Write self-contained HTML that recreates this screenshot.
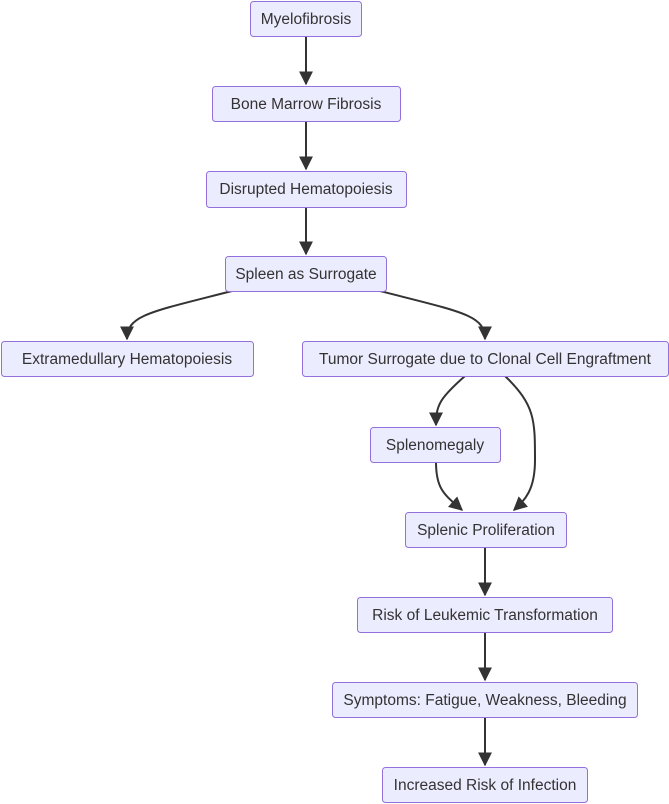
<!DOCTYPE html>
<html><head><meta charset="utf-8"><style>
html,body{margin:0;padding:0;background:#fff;}
svg{display:block;}
text{font-family:"Liberation Sans",sans-serif;font-size:15.5px;fill:#333;}
rect{fill:#ECECFF;stroke:#9370DB;stroke-width:1;}
path{fill:none;stroke:#333;stroke-width:2;}
</style></head><body>
<svg width="669" height="804" viewBox="0 0 669 804">
<defs><marker id="a" viewBox="0 0 10 10" refX="9" refY="5" markerWidth="7" markerHeight="7" orient="auto"><path d="M0,0 L10,5 L0,10 z" style="fill:#333;stroke:none"/></marker></defs>
<path d="M306,36 V84" marker-end="url(#a)"/>
<path d="M306,121 V169" marker-end="url(#a)"/>
<path d="M306,207 V254" marker-end="url(#a)"/>
<path d="M232,291 C150,312 127,315 127,339" marker-end="url(#a)"/>
<path d="M380,291 C462,312 485,315 485,339" marker-end="url(#a)"/>
<path d="M465,376 C440,398 436,405 436,425" marker-end="url(#a)"/>
<path d="M505,376 C535,405 535,420 535,460 C535,490 525,500 514,510" marker-end="url(#a)"/>
<path d="M436,462 C436,490 445,495 462,510" marker-end="url(#a)"/>
<path d="M485,548 V595" marker-end="url(#a)"/>
<path d="M485,632 V680" marker-end="url(#a)"/>
<path d="M485,717 V765" marker-end="url(#a)"/>
<rect x="250.5" y="1.5" width="111" height="35" rx="3"/><text x="306" y="24" text-anchor="middle">Myelofibrosis</text>
<rect x="212.5" y="86.5" width="188" height="35" rx="3"/><text x="306" y="109" text-anchor="middle">Bone Marrow Fibrosis</text>
<rect x="206.5" y="171.5" width="200" height="36" rx="3"/><text x="306" y="194" text-anchor="middle">Disrupted Hematopoiesis</text>
<rect x="225.5" y="256.5" width="161" height="35" rx="3"/><text x="306" y="279" text-anchor="middle">Spleen as Surrogate</text>
<rect x="1.5" y="341.5" width="252" height="35" rx="3"/><text x="127" y="364" text-anchor="middle">Extramedullary Hematopoiesis</text>
<rect x="302.5" y="341.5" width="366" height="35" rx="3"/><text x="485" y="364" text-anchor="middle">Tumor Surrogate due to Clonal Cell Engraftment</text>
<rect x="370.5" y="427.5" width="130" height="35" rx="3"/><text x="435" y="450" text-anchor="middle">Splenomegaly</text>
<rect x="405.5" y="512.5" width="161" height="35" rx="3"/><text x="486" y="535" text-anchor="middle">Splenic Proliferation</text>
<rect x="357.5" y="597.5" width="255" height="35" rx="3"/><text x="485" y="620" text-anchor="middle">Risk of Leukemic Transformation</text>
<rect x="332.5" y="682.5" width="305" height="35" rx="3"/><text x="485" y="705" text-anchor="middle">Symptoms: Fatigue, Weakness, Bleeding</text>
<rect x="382.5" y="767.5" width="205" height="35" rx="3"/><text x="485" y="790" text-anchor="middle">Increased Risk of Infection</text>
</svg>
</body></html>
